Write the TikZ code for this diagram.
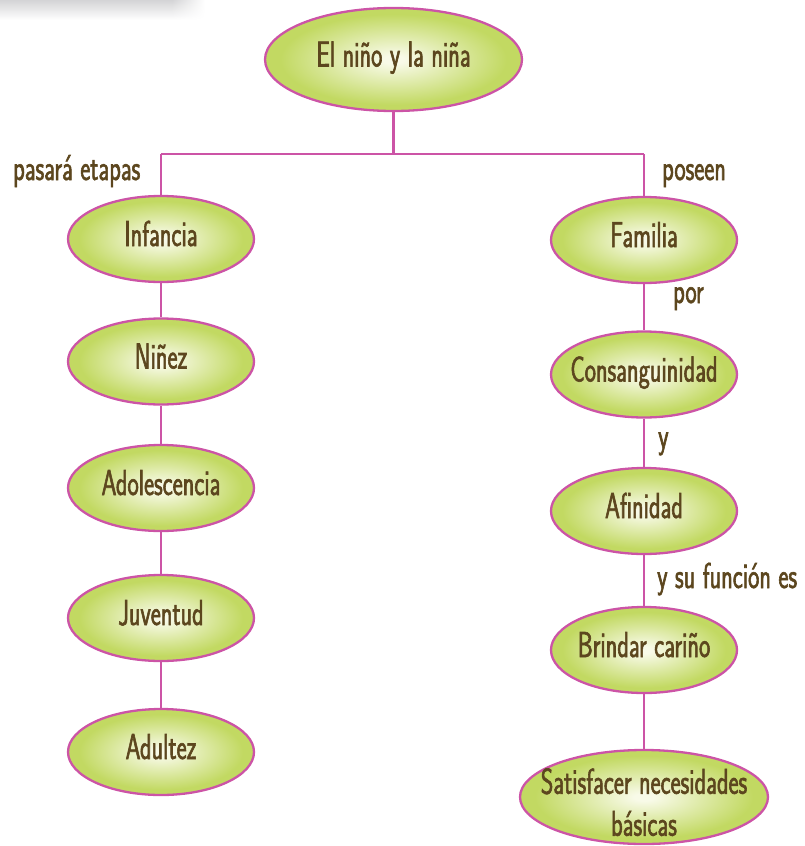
\documentclass[tikz,border=0pt]{standalone}
\usepackage{fontspec}
\setmainfont{Latin Modern Sans}[FakeStretch=0.665,FakeBold=1.6]
\usetikzlibrary{shapes.geometric,fadings}
\definecolor{lnc}{RGB}{204,84,166}
\definecolor{txc}{RGB}{92,70,30}
\definecolor{ovIn}{RGB}{248,250,232}
\definecolor{ovOut}{RGB}{194,217,98}
\definecolor{barc}{RGB}{212,212,214}
\pgfdeclareradialshading{ovalshade}{\pgfpoint{0bp}{0bp}}{color(0bp)=(ovIn); color(2bp)=(ovIn); color(22bp)=(ovOut); color(50bp)=(ovOut)}
\begin{document}
\begin{tikzpicture}[x=1pt,y=-1pt,
  oval/.style={ellipse, draw=lnc, line width=2.3pt, shade, shading=ovalshade,
    minimum width=186pt, minimum height=86pt, inner sep=0pt, text=txc,
    font=\fontsize{36}{40}\selectfont, text height=24pt, text depth=10pt},
  conn/.style={draw=lnc, line width=2.3pt},
  lab/.style={anchor=base west, text=txc, inner sep=0pt,
    font=\fontsize{36}{40}\selectfont}]
\useasboundingbox (0,0) rectangle (804,846);
% top-left shadow bar
\shade[top color=barc, bottom color=white] (0,0) rectangle (172,20);
\shade[top color=barc, bottom color=white, path fading=east] (172,0) rectangle (205,20);

% nodes
\node[oval, minimum width=257pt, minimum height=103pt] (top) at (393.5,59.5) {\makebox[0pt]{El niño y la niña}};

\node[oval] (inf) at (161,239) {\makebox[0pt]{Infancia}};
\node[oval] (nin) at (161,361.5) {\makebox[0pt]{Niñez}};
\node[oval] (ado) at (161,488) {\makebox[0pt]{Adolescencia}};
\node[oval] (juv) at (161,618) {\makebox[0pt]{Juventud}};
\node[oval] (adu) at (161,752) {\makebox[0pt]{Adultez}};

\node[oval] (fam) at (644,240) {\makebox[0pt]{Familia}};
\node[oval] (con) at (644,374.5) {\makebox[0pt]{Consanguinidad}};
\node[oval] (afi) at (644,511) {\makebox[0pt]{Afinidad}};
\node[oval] (bri) at (644,650) {\makebox[0pt]{Brindar cariño}};
\node[oval, minimum width=248pt, minimum height=94pt, text height=34pt, text depth=2pt] (sat) at (644,797)
  {\makebox[0pt]{\begin{tabular}{@{}c@{}}Satisfacer necesidades\\[2pt]básicas\end{tabular}}};

% junction coordinates
\coordinate (hub) at (393.5,154);
\coordinate (lc) at (161,154);
\coordinate (rc) at (644,154);

% connectors
\draw[conn] (top) -- (hub);
\draw[conn] (lc) -- (rc);
\draw[conn] (lc) -- (inf);
\draw[conn] (rc) -- (fam);
\draw[conn] (inf) -- (nin);
\draw[conn] (nin) -- (ado);
\draw[conn] (ado) -- (juv);
\draw[conn] (juv) -- (adu);
\draw[conn] (fam) -- (con);
\draw[conn] (con) -- (afi);
\draw[conn] (afi) -- (bri);
\draw[conn] (bri) -- (sat);

% labels
\node[lab] (l1) at (13,180) {pasará etapas};
\node[lab] (l2) at (662,180) {poseen};
\node[lab] (l3) at (673,303) {por};
\node[lab] (l4) at (658,448) {y};
\node[lab] (l5) at (657,588) {y su función es};
\end{tikzpicture}
\end{document}
